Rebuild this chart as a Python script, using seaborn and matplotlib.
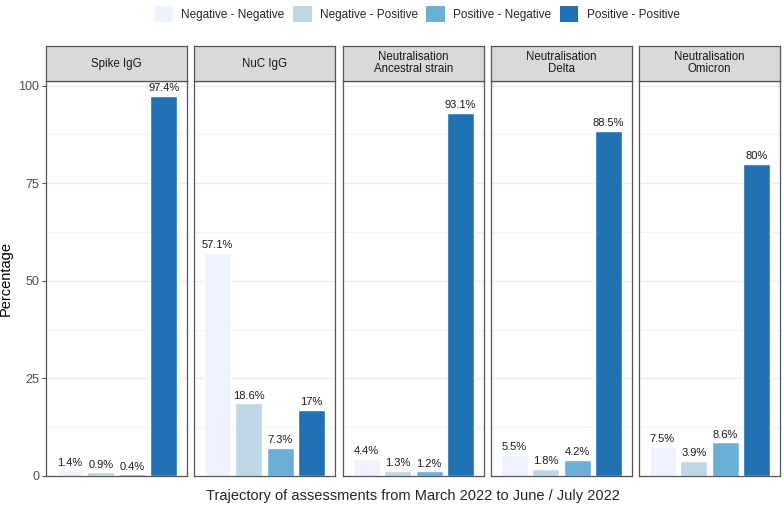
import matplotlib
matplotlib.use("Agg")
import matplotlib.pyplot as plt
from matplotlib.patches import Patch
import seaborn as sns
import pandas as pd

panels = ["Spike IgG", "NuC IgG", "Neutralisation\nAncestral strain",
          "Neutralisation\nDelta", "Neutralisation\nOmicron"]
categories = ["Negative - Negative", "Negative - Positive",
              "Positive - Negative", "Positive - Positive"]
spike = [1.4, 0.9, 0.4, 97.4]
nuc = [57.1, 18.6, 7.3, 17.0]
ancestral = [4.4, 1.3, 1.2, 93.1]
delta = [5.5, 1.8, 4.2, 88.5]
omicron = [7.5, 3.9, 8.6, 80.0]
series = [spike, nuc, ancestral, delta, omicron]
colors = ["#EFF3FF", "#BDD7E7", "#6BAED6", "#2171B5"]

sns.set_theme(style="white")
plt.rcParams["font.family"] = ["Liberation Sans", "DejaVu Sans"]

W, H = 784, 512
fig = plt.figure(figsize=(W / 100, H / 100), dpi=100)

lefts = [46, 194, 343, 491, 639]
pw = 141
ptop, pbot, stop = 81, 476, 46
border = "#555555"

for i, (name, vals) in enumerate(zip(panels, series)):
    ax = fig.add_axes([lefts[i] / W, 1 - pbot / H, pw / W, (pbot - ptop) / H])
    df = pd.DataFrame({"cat": categories, "val": vals})
    sns.barplot(data=df, x="cat", y="val", hue="cat", order=categories,
                hue_order=categories, palette=colors, legend=False,
                width=0.87, ax=ax, saturation=1)
    ax.set_xlim(-0.74, 3.74)
    ax.set_ylim(0, 101.2)
    for c in ax.containers:
        labels = [f"{v:g}%" for v in c.datavalues]
        ax.bar_label(c, labels=labels, padding=2, fontsize=8, color="#1a1a1a")
    ax.set_xticks([])
    ax.set_xlabel("")
    ax.set_ylabel("")
    ax.set_yticks([0, 25, 50, 75, 100])
    ax.set_yticks([12.5, 37.5, 62.5, 87.5], minor=True)
    ax.grid(True, axis="y", which="major", color="#EBEBEB", linewidth=0.9)
    ax.grid(True, axis="y", which="minor", color="#EBEBEB", linewidth=0.5)
    ax.set_axisbelow(True)
    for s in ax.spines.values():
        s.set_visible(True)
        s.set_color(border)
        s.set_linewidth(0.9)
    if i == 0:
        ax.tick_params(axis="y", which="major", left=True, length=3, width=0.8,
                       color=border, labelsize=9, labelcolor="#4d4d4d", pad=2)
        ax.set_ylabel("Percentage", fontsize=10.5, color="black", labelpad=4)
    else:
        ax.tick_params(axis="y", which="both", left=False, labelleft=False)
    ax.tick_params(axis="y", which="minor", left=False)
    sax = fig.add_axes([lefts[i] / W, 1 - ptop / H, pw / W, (ptop - stop) / H])
    sax.set_facecolor("#D9D9D9")
    sax.set_xticks([]); sax.set_yticks([])
    for s in sax.spines.values():
        s.set_visible(True)
        s.set_color(border)
        s.set_linewidth(0.9)
    sax.text(0.5, 0.5, name, ha="center", va="center", fontsize=8.3,
             color="#1a1a1a", transform=sax.transAxes, linespacing=1.0)

fig.text((46 + 780) / 2 / W, 1 - 496 / H,
         "Trajectory of assessments from March 2022 to June / July 2022",
         ha="center", va="center", fontsize=10.5)

handles = [Patch(facecolor=c, edgecolor="none", label=l) for c, l in zip(colors, categories)]
fig.legend(handles=handles, loc="center", bbox_to_anchor=((46 + 780) / 2 / W + 0.005, 1 - 14 / H),
           ncol=4, frameon=False, fontsize=8.5, handlelength=1.6, handleheight=1.7,
           columnspacing=0.7, handletextpad=0.7)

fig.savefig("out.png", dpi=100)
